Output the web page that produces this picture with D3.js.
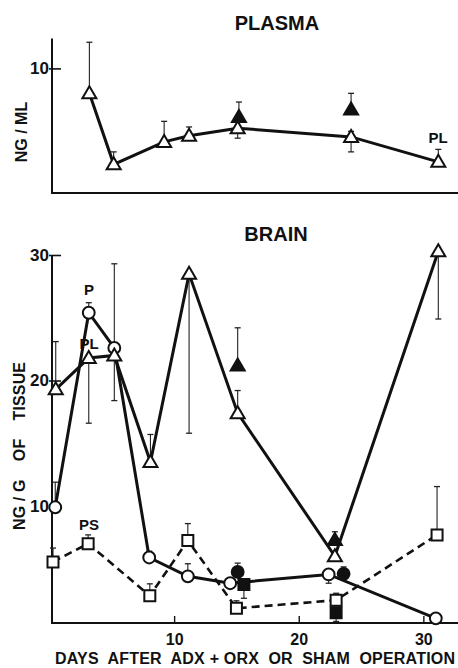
<!DOCTYPE html>
<html>
<head>
<meta charset="utf-8">
<script src="https://cdn.jsdelivr.net/npm/d3@7"></script>
<style>
body { margin: 0; background: #fff; }
text { font-family: "Liberation Sans", Arial, sans-serif; font-weight: bold; fill: #111; }
</style>
</head>
<body>
<svg id="chart" width="458" height="668"></svg>
<script>
// ---- plasma panel (top) ----
var plasmaDays = [3.2, 5.15, 9.2, 11.2, 15.1, 24.2, 31.2];
var plasmaPL = [8.0, 2.3, 4.1, 4.6, 5.2, 4.5, 2.5];
var plasmaPLHi = [12.1, 3.3, 5.75, 5.3, null, 4.95, 3.5];
var plasmaPLLo = [null, null, null, null, 4.4, 3.3, null];
var plasmaFillDays = [15.2, 24.2];
var plasmaFill = [6.1, 6.7];
var plasmaFillHi = [7.3, 8.0];

// ---- brain panel (bottom) ----
var brainPLDays = [0.5, 3.15, 5.2, 8.1, 11.2, 15.1, 22.9, 31.2];
var brainPL = [19.3, 21.8, 22.0, 13.5, 28.5, 17.4, 6.0, 30.3];
var brainPLHi = [23.1, null, null, 15.7, null, 19.2, null, null];
var brainPLLo = [null, 16.6, 18.4, null, 15.8, null, null, 24.9];

var brainPDays = [0.46, 3.15, 5.2, 8.0, 11.1, 14.5, 22.4, 31.0];
var brainP = [9.9, 25.4, 22.6, 5.9, 4.4, 3.85, 4.55, 1.05];
var brainPHi = [11.9, 26.2, 29.3, 6.4, 5.4, null, null, null];
var brainPLo = [null, null, null, null, null, null, 3.85, null];

var brainPSDays = [0.28, 3.1, 8.05, 11.1, 15.0, 23.0, 31.1];
var brainPS = [5.55, 7.0, 2.85, 7.25, 1.85, 2.5, 7.7];
var brainPSHi = [6.65, 7.7, 3.8, 8.6, 2.45, 3.05, 11.55];

// filled symbols = treated groups
var triFillDays = [15.1, 22.9], triFill = [21.2, 7.3], triFillHi = [24.2, 7.95];
var circFillDays = [15.1, 23.6], circFill = [4.75, 4.6], circFillHi = [5.45, 5.15];
var sqFillDays = [15.6, 23.0], sqFill = [3.75, 1.5], sqFillHi = [null, 2.1], sqFillLo = [2.65, 0.8];

var xTicks = [10, 20, 30];
var yTopTicks = [10];
var yBrainTicks = [10, 20, 30];

var svg = d3.select("#chart");

var x = d3.scaleLinear().domain([0.2, 32.7]).range([52, 457]);
var yTop = d3.scaleLinear().domain([0, 12.4]).range([193, 38.5]);
var yBr = d3.scaleLinear().domain([0.68, 30]).range([623, 255]);

var shapes = {
    tri: "M0,-7L7,5L-7,5Z",
    circ: d3.symbol().type(d3.symbolCircle).size(110)(),
    sq: "M-5.5,-5.5H5.5V5.5H-5.5Z"
};

function zip(days, vals, hi, lo) {
    return days.map(function (d, i) {
        return { day: d, v: vals[i], hi: hi ? hi[i] : null, lo: lo ? lo[i] : null };
    });
}

function errBars(g, data, y) {
    data.forEach(function (d) {
        [d.hi, d.lo].forEach(function (e) {
            if (e == null) return;
            g.append("line")
                .attr("x1", x(d.day)).attr("x2", x(d.day))
                .attr("y1", y(d.v)).attr("y2", y(e))
                .attr("stroke", "#222").attr("stroke-width", 1.1);
            g.append("line")
                .attr("x1", x(d.day) - 3).attr("x2", x(d.day) + 3)
                .attr("y1", y(e)).attr("y2", y(e))
                .attr("stroke", "#222").attr("stroke-width", 1.3);
        });
    });
}

function seriesLine(g, data, y, dashed) {
    var line = d3.line().x(function (d) { return x(d.day); }).y(function (d) { return y(d.v); });
    g.append("path").datum(data)
        .attr("d", line)
        .attr("fill", "none")
        .attr("stroke", "#111")
        .attr("stroke-width", dashed ? 2.6 : 3)
        .attr("stroke-dasharray", dashed ? "8,5" : null);
}

function markers(g, data, y, shape, filled) {
    g.selectAll(null).data(data).enter().append("path")
        .attr("d", shapes[shape])
        .attr("transform", function (d) { return "translate(" + x(d.day) + "," + y(d.v) + ")"; })
        .attr("fill", filled ? "#111" : "#fff")
        .attr("stroke", "#111")
        .attr("stroke-width", 2);
}

function styleTicks(ax, size) {
    ax.selectAll(".tick text").attr("font-size", size).attr("fill", "#111")
        .attr("font-family", "'Liberation Sans', Arial, sans-serif").attr("font-weight", "bold");
}

function leftAxis(g, y, ticks, top, bottom) {
    g.append("line").attr("x1", 52).attr("x2", 52).attr("y1", top).attr("y2", bottom)
        .attr("stroke", "#111").attr("stroke-width", 2);
    var ax = g.append("g").attr("transform", "translate(52,0)")
        .call(d3.axisLeft(y).tickValues(ticks).tickSize(-9).tickPadding(3).tickSizeOuter(0));
    ax.select(".domain").remove();
    ax.selectAll(".tick line").attr("x1", -3).attr("stroke", "#111").attr("stroke-width", 1.6);
    styleTicks(ax, 17);
}

// ---------- top panel ----------
var gTop = svg.append("g");
svg.append("text").attr("x", 277).attr("y", 30).attr("text-anchor", "middle")
    .attr("font-size", 20).text("PLASMA");

leftAxis(gTop, yTop, yTopTicks, 38.5, 194);
gTop.append("line").attr("x1", 51).attr("x2", 458).attr("y1", 193).attr("y2", 193)
    .attr("stroke", "#111").attr("stroke-width", 2);

var topPL = zip(plasmaDays, plasmaPL, plasmaPLHi, plasmaPLLo);
var topFill = zip(plasmaFillDays, plasmaFill, plasmaFillHi, null);
errBars(gTop, topPL.concat(topFill), yTop);
seriesLine(gTop, topPL, yTop, false);
markers(gTop, topPL, yTop, "tri", false);
markers(gTop, topFill, yTop, "tri", true);

svg.append("text").attr("x", 438).attr("y", 143).attr("text-anchor", "middle")
    .attr("font-size", 15).text("PL");
svg.append("text").attr("transform", "translate(27,132) rotate(-90)")
    .attr("text-anchor", "middle").attr("font-size", 16).text("NG / ML");

// ---------- bottom panel ----------
var gBr = svg.append("g");
svg.append("text").attr("x", 276).attr("y", 241).attr("text-anchor", "middle")
    .attr("font-size", 20).text("BRAIN");

leftAxis(gBr, yBr, yBrainTicks, 255, 624);
gBr.append("line").attr("x1", 51).attr("x2", 458).attr("y1", 623).attr("y2", 623)
    .attr("stroke", "#111").attr("stroke-width", 2);
var xa = gBr.append("g").attr("transform", "translate(0,623)")
    .call(d3.axisBottom(x).tickValues(xTicks).tickSize(-7).tickPadding(11).tickSizeOuter(0));
xa.select(".domain").remove();
xa.selectAll(".tick line").attr("stroke", "#111").attr("stroke-width", 1.4);
styleTicks(xa, 16);

var sPL = zip(brainPLDays, brainPL, brainPLHi, brainPLLo);
var sP = zip(brainPDays, brainP, brainPHi, brainPLo);
var sPS = zip(brainPSDays, brainPS, brainPSHi, null);
var fTri = zip(triFillDays, triFill, triFillHi, null);
var fCirc = zip(circFillDays, circFill, circFillHi, null);
var fSq = zip(sqFillDays, sqFill, sqFillHi, sqFillLo);

errBars(gBr, sPL.concat(sP, sPS, fTri, fCirc, fSq), yBr);
seriesLine(gBr, sPS, yBr, true);
seriesLine(gBr, sP, yBr, false);
seriesLine(gBr, sPL, yBr, false);
markers(gBr, sPS, yBr, "sq", false);
markers(gBr, sP, yBr, "circ", false);
markers(gBr, sPL, yBr, "tri", false);
markers(gBr, fTri, yBr, "tri", true);
markers(gBr, fCirc, yBr, "circ", true);
markers(gBr, fSq, yBr, "sq", true);

svg.append("text").attr("x", 89).attr("y", 295).attr("text-anchor", "middle").attr("font-size", 15).text("P");
svg.append("text").attr("x", 89).attr("y", 349).attr("text-anchor", "middle").attr("font-size", 15).text("PL");
svg.append("text").attr("x", 89).attr("y", 530).attr("text-anchor", "middle").attr("font-size", 15).text("PS");

svg.append("text").attr("transform", "translate(25,446) rotate(-90)")
    .attr("text-anchor", "middle").attr("font-size", 16)
    .style("white-space", "pre")
    .attr("textLength", 168).attr("lengthAdjust", "spacing")
    .text("NG / G    OF    TISSUE");
svg.append("text").attr("x", 55).attr("y", 664)
    .attr("font-size", 16).style("white-space", "pre")
    .attr("textLength", 400).attr("lengthAdjust", "spacing")
    .text("DAYS  AFTER  ADX + ORX  OR  SHAM  OPERATION");
</script>
</body>
</html>
